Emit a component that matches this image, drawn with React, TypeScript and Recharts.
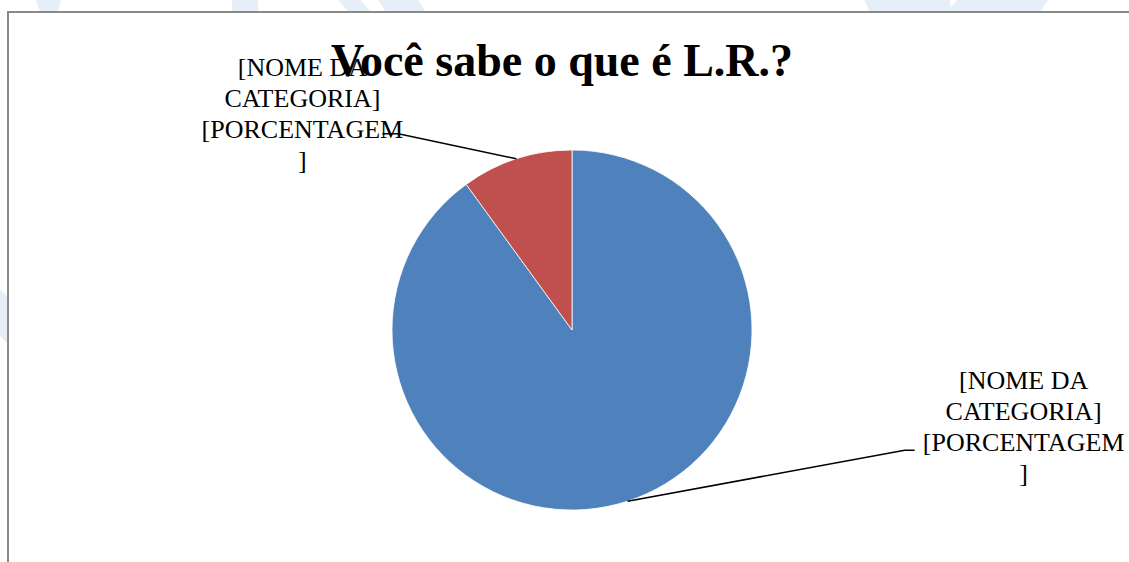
import { Cell, Pie, PieChart } from "recharts";

// chart data
const title = "Você sabe o que é L.R.?";
const categories = ["[NOME DA CATEGORIA]", "[NOME DA CATEGORIA]"];
const values = [90, 10];
const colors = ["#4f81bd", "#c0504d"];
// data label text as Excel wraps it (placeholder fields)
const labelLines = ["[NOME DA", "CATEGORIA]", "[PORCENTAGEM", "]"];

// leader line / label placement per slice (relative to slice edge midpoint)
const labelLayout = [
  { elbowX: 277, elbowY: -51, tail: 10, textX: 119, textY: -70 },
  { elbowX: -118, elbowY: -25, tail: -16, textX: -96, textY: -67 },
];

const RAD = Math.PI / 180;
const LABEL_FONT = 26;
const LINE_H = 31;

function renderLabel(props: any) {
  const { cx, cy, midAngle, outerRadius, index } = props;
  const l = labelLayout[index];
  const x0 = cx + outerRadius * Math.cos(-midAngle * RAD);
  const y0 = cy + outerRadius * Math.sin(-midAngle * RAD);
  const ex = x0 + l.elbowX;
  const ey = y0 + l.elbowY;
  const tx = ex + l.textX;
  const ty = ey + l.textY;
  return (
    <g key={`lbl-${index}`}>
      <polyline
        points={`${x0},${y0} ${ex},${ey} ${ex + l.tail},${ey}`}
        fill="none"
        stroke="#000"
        strokeWidth={1.6}
      />
      <text
        x={tx}
        y={ty}
        textAnchor="middle"
        fontFamily="'Liberation Serif', 'Times New Roman', serif"
        fontSize={LABEL_FONT}
        fill="#000"
      >
        {labelLines.map((line, i) => (
          <tspan key={i} x={tx} y={ty + i * LINE_H + 9}>
            {line}
          </tspan>
        ))}
      </text>
    </g>
  );
}

// faint watermark pieces peeking out around the chart frame
const watermark = [
  "36,0 61,0 58,12 40,12",
  "232,0 258,0 258,12 232,12",
  "338,0 360,0 371,12 349,12",
  "378,0 418,0 426,12 386,12",
  "864,0 950,0 950,8 957,0 1048,0 1040,12 870,12",
  "0,290 7,296 7,343 0,336",
];

export default function App() {
  const data = categories.map((name, i) => ({ name, value: values[i] }));

  return (
    <div style={{ position: "absolute", left: 0, top: 0, width: 1129, height: 562, background: "#fff" }}>
      <svg width={1129} height={562} style={{ position: "absolute", left: 0, top: 0 }}>
        {watermark.map((p, i) => (
          <polygon key={i} points={p} fill="#e6eef8" />
        ))}
        <rect x={8} y={12} width={1140} height={570} fill="#fff" stroke="#898989" strokeWidth={2} />
      </svg>
      <div style={{ position: "absolute", left: 0, top: 0 }}>
        <PieChart width={1129} height={562} margin={{ top: 0, right: 0, bottom: 0, left: 0 }}>
          <Pie
            data={data}
            dataKey="value"
            nameKey="name"
            cx={572}
            cy={330}
            outerRadius={180}
            startAngle={90}
            endAngle={-270}
            stroke="#ffffff"
            strokeWidth={0.8}
            label={renderLabel}
            labelLine={false}
            isAnimationActive={false}
          >
            {data.map((_, i) => (
              <Cell key={i} fill={colors[i]} />
            ))}
          </Pie>
        </PieChart>
      </div>
      <svg width={1129} height={562} style={{ position: "absolute", left: 0, top: 0, pointerEvents: "none" }}>
        <text
          x={562}
          y={76}
          textAnchor="middle"
          fontFamily="'Liberation Serif', 'Times New Roman', serif"
          fontWeight="bold"
          fontSize={46}
          fill="#000"
        >
          {title}
        </text>
      </svg>
    </div>
  );
}
